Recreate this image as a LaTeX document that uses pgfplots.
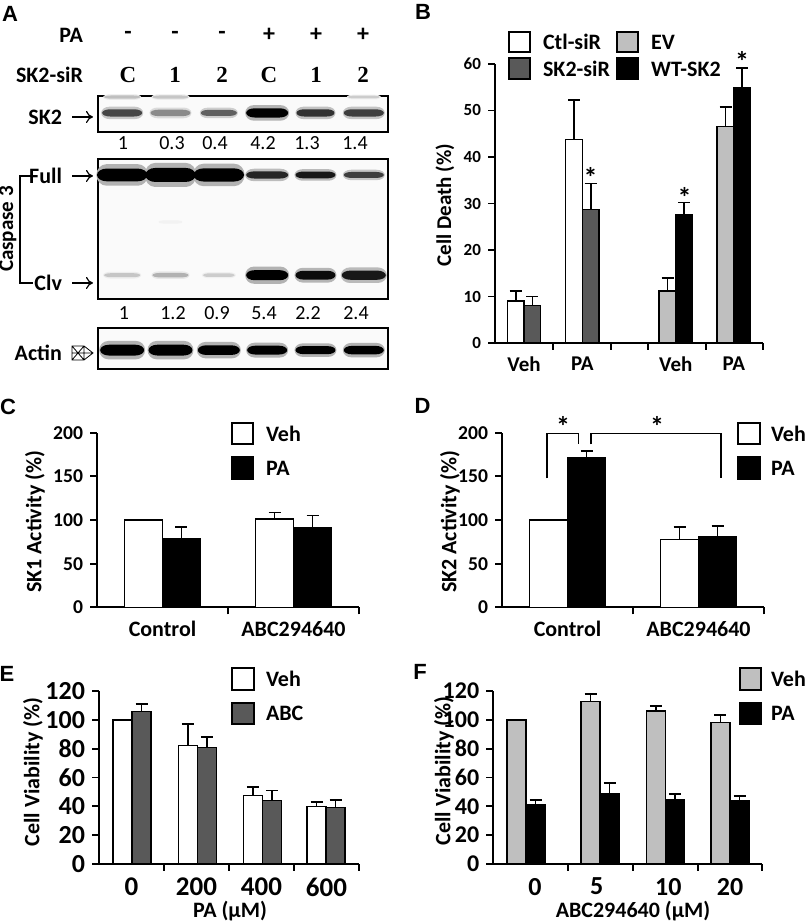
\documentclass[border=0pt]{standalone}
\usepackage{fontspec}
\setmainfont{Carlito}
\newfontfamily\lettfont{Liberation Sans}
\newfontfamily\timesfont{Liberation Serif}
\usepackage{pgfplots}
\pgfplotsset{compat=1.18}
\usepackage{pgfplotstable}
\usetikzlibrary{arrows.meta}

\definecolor{dgray}{gray}{0.35}
\definecolor{lgray}{gray}{0.75}
\newcommand\fs[1]{\fontsize{#1}{#1}\selectfont}

\newdimen\bandW
\newdimen\bandT
\newdimen\bandR
\newdimen\bandC
\pgfdeclareplotmark{band}{%
  \pgfmathsetlength\bandW{\bandwidth}%
  \bandT=\pgfplotmarksize
  \bandR=0.4\bandW
  \bandC=\bandW \advance\bandC by -\bandR
  \pgfpathrectangle{\pgfpoint{-\bandC}{-\bandT}}{\pgfpoint{2\bandC}{2\bandT}}%
  \pgfpathellipse{\pgfpoint{-\bandC}{0pt}}{\pgfpoint{\bandR}{0pt}}{\pgfpoint{0pt}{\bandT}}%
  \pgfpathellipse{\pgfpoint{\bandC}{0pt}}{\pgfpoint{\bandR}{0pt}}{\pgfpoint{0pt}{\bandT}}%
  \pgfusepathqfill}

\pgfplotsset{
  panel/.style={
    scale only axis, anchor=south west, clip=false,
    axis x line=bottom, axis y line=left,
    axis line style={-, line width=0.9pt},
    tick align=outside, major tick length=3.5pt, minor tick length=3.5pt,
    every major x tick/.append style={draw=none},
    every minor x tick/.append style={line width=0.9pt, black},
    ytick style={line width=0.9pt, black},
    /pgf/number format/assume math mode=true,
    ymin=0, xmin=0,
  },
  bars/.style={ybar, bar shift=0pt, draw=black, line width=0.7pt,
    error bars/y dir=plus, error bars/y explicit,
    error bars/error bar style={line width=0.8pt, black},
    error bars/error mark options={rotate=90, mark size=3pt, line width=0.8pt, black}},
  blot/.style={scale only axis, anchor=south west, width=145pt,
    xmin=0.5, xmax=6.5, ymin=0, ymax=1, xtick=\empty, ytick=\empty,
    axis line style={line width=0.8pt},
    axis background/.style={fill=black!2},
    point meta min=0, point meta max=1,
    colormap={blot}{color(0cm)=(white); color(1cm)=(black)}},
  band/.style={scatter, only marks, mark=band,
    scatter/use mapped color={draw=none, fill=mapped color},
    point meta=\thisrow{d},
    visualization depends on={\thisrow{t}\as\bandthick},
    visualization depends on={\thisrow{w}\as\bandwidth},
    scatter/@pre marker code/.append style={/tikz/mark size=\bandthick}},
  halo/.style={scatter, only marks, mark=band,
    scatter/use mapped color={draw=none, fill=mapped color},
    point meta=\thisrow{hd},
    visualization depends on={\thisrow{ht}\as\bandthick},
    visualization depends on={\thisrow{hw}\as\bandwidth},
    scatter/@pre marker code/.append style={/tikz/mark size=\bandthick}},
}

% blot bands: lane, y (relative), half width (pt), half thickness (pt), darkness; halo w, t, d
\pgfplotstableread{
lane y w t d hw ht hd
1 0.53 10 1.8 0.72 10.5 3.1 0.22
2 0.53 10 1.6 0.45 10.5 2.7 0.14
3 0.53 9 1.5 0.62 9.5 2.6 0.19
4 0.53 10.5 2.3 1.00 11 3.9 0.30
5 0.53 9.5 1.8 0.80 10 3.1 0.24
6 0.53 10 1.8 0.75 10.5 3.1 0.23
1 0.97 9 0.8 0.25 9.5 1.4 0.08
2 0.97 9 0.8 0.22 9.5 1.4 0.07
6 0.97 8 0.7 0.20 8.5 1.2 0.06
}\tabsk
\pgfplotstableread{
lane y w t d hw ht hd
1 0.886 12.6 3.2 1.00 12.9 5.4 0.30
2 0.886 12.6 3.5 1.00 12.9 6.0 0.30
3 0.886 12.6 3.3 1.00 12.9 5.6 0.30
4 0.886 10.5 1.8 0.85 11 3.1 0.26
5 0.886 10 1.7 0.90 10.5 2.9 0.27
6 0.886 10 1.5 0.75 10.5 2.6 0.23
1 0.17 9 1.0 0.22 9.5 1.7 0.07
2 0.17 9 1.1 0.30 9.5 1.9 0.09
3 0.17 8 0.9 0.20 8.5 1.5 0.06
4 0.17 10.5 2.5 1.00 11 4.3 0.30
5 0.17 10 2.2 0.95 10.5 3.7 0.29
6 0.17 11 2.3 0.90 11.5 3.9 0.27
2 0.55 6 0.8 0.05 6.5 1.4 0.02
}\tabcas
\pgfplotstableread{
lane y w t d hw ht hd
1 0.46 11 2.7 1.00 11.5 4.6 0.30
2 0.46 11 2.7 1.00 11.5 4.6 0.30
3 0.46 10.5 2.4 1.00 11 4.1 0.30
4 0.46 10 2.2 1.00 10.5 3.7 0.30
5 0.46 10 2.0 1.00 10.5 3.4 0.30
6 0.46 10 2.1 1.00 10.5 3.6 0.30
}\tabact

\begin{document}
\begin{tikzpicture}[x=0.5pt,y=0.5pt]
\path[use as bounding box] (0,0) rectangle (807,924);

%% ---------------- Panel A ----------------
\begin{axis}[blot, at={(49pt,396pt)}, height=18pt]
\addplot[halo] table[x=lane,y=y] \tabsk;
\addplot[band] table[x=lane,y=y] \tabsk;
\end{axis}
\begin{axis}[blot, at={(49pt,312.5pt)}, height=70pt]
\addplot[halo] table[x=lane,y=y] \tabcas;
\addplot[band] table[x=lane,y=y] \tabcas;
\end{axis}
\begin{axis}[blot, at={(49pt,277.5pt)}, height=20.5pt]
\addplot[halo] table[x=lane,y=y] \tabact;
\addplot[band] table[x=lane,y=y] \tabact;
\end{axis}

\node[font=\lettfont\bfseries\fs{11}] at (10,910) {A};
\node[font=\fs{11}\bfseries, anchor=east] at (90,889) {PA};
\foreach \x/\s in {128/-,175/-,222/-,269/+,316/+,363/+}
  \node[font=\fs{12}\bfseries] at (\x,889) {\s};
\node[font=\fs{11}\bfseries, anchor=east] at (90,849) {SK2-siR};
\foreach \x/\s in {128/C,175/1,222/2,269/C,316/1,363/2}
  \node[font=\timesfont\bfseries\fs{11.5}] at (\x,849) {\s};
\node[font=\fs{11}\bfseries, anchor=east] at (69,807) {SK2};
\draw[line width=0.6pt, -{To[length=3.5pt,width=6pt]}] (72,807) -- (93,807);
\foreach \x/\s in {123/1,172/0.3,215/0.4,263/4.2,307/1.3,355/1.4}
  \node[font=\fs{10}] at (\x,781) {\s};
\node[font=\fs{11}\bfseries, anchor=east] at (69,748) {Full};
\draw[line width=0.6pt, -{To[length=3.5pt,width=6pt]}] (72,748) -- (93,748);
\node[font=\fs{11}\bfseries, anchor=east] at (69,641) {Clv};
\draw[line width=0.6pt, -{To[length=3.5pt,width=6pt]}] (72,641) -- (93,641);
\draw[line width=0.6pt] (33,748) -- (20,748) -- (20,641) -- (33,641);
\node[font=\fs{10.5}\bfseries, rotate=90] at (8,695) {Caspase 3};
\foreach \x/\s in {124/1,173/1.2,217/0.9,264/5.4,308/2.2,356/2.4}
  \node[font=\fs{10}] at (\x,611) {\s};
\node[font=\fs{11}\bfseries, anchor=east] at (69,571) {Actin};
\draw[line width=0.4pt] (72,564) rectangle (84,578) (72,564) -- (84,578) (72,578) -- (84,564)
  (84,564) -- (93,571) -- (84,578) (72,571) -- (93,571);

%% ---------------- Panel B ----------------
\node[font=\lettfont\bfseries\fs{11}] at (423,912) {B};
\begin{axis}[panel, at={(247.5pt,290.5pt)}, width=134pt, height=139.5pt,
  xmax=268, ymax=60, ytick={0,10,...,60},
  xtick={29,87.3,180.8,238.8}, xticklabels={Veh,PA,Veh,PA},
  minor xtick={58.3,116,152.7,210.7,267.7},
  yticklabel style={font=\fs{8.5}\bfseries},
  xticklabel style={font=\fs{10.5}\bfseries}]
\addplot[bars, fill=white, bar width=16.7] coordinates {(20.7,9.0) +- (0,2.2) (79,43.8) +- (0,8.4)};
\addplot[bars, fill=dgray, bar width=16.7] coordinates {(37.3,8.1) +- (0,1.9) (95.7,28.7) +- (0,5.6)};
\addplot[bars, fill=lgray, bar width=16.7] coordinates {(172.5,11.2) +- (0,2.8) (230.5,46.5) +- (0,4.2)};
\addplot[bars, fill=black, bar width=16.7] coordinates {(189.2,27.5) +- (0,2.7) (247.2,55.0) +- (0,4.2)};
\node[font=\fs{14}\bfseries] at (axis cs:95.7,35.5) {*};
\node[font=\fs{14}\bfseries] at (axis cs:189.5,31.2) {*};
\node[font=\fs{14}\bfseries] at (axis cs:247.2,60.6) {*};
\end{axis}
\node[font=\fs{10.5}\bfseries, rotate=90] at (445,719) {Cell Death (\%)};
\draw[line width=0.6pt, fill=white] (509,892) rectangle (530,872);
\node[font=\fs{11}\bfseries, anchor=west] at (536,882) {Ctl-siR};
\draw[line width=0.6pt, fill=dgray] (509,866) rectangle (530,845);
\node[font=\fs{11}\bfseries, anchor=west] at (536,855) {SK2-siR};
\draw[line width=0.6pt, fill=lgray] (617,892) rectangle (638,872);
\node[font=\fs{11}\bfseries, anchor=west] at (644,882) {EV};
\draw[line width=0.6pt, fill=black] (617,866) rectangle (638,845);
\node[font=\fs{11}\bfseries, anchor=west] at (644,855) {WT-SK2};

%% ---------------- Panel C ----------------
\node[font=\lettfont\bfseries\fs{11}] at (8,517) {C};
\begin{axis}[panel, at={(48.5pt,158.35pt)}, width=131pt, height=87.3pt,
  xmax=2, ymax=200, ytick={0,50,...,200},
  xtick={0.5,1.5}, xticklabels={Control,ABC294640}, minor xtick={1,2},
  yticklabel style={font=\fs{9.8}\bfseries},
  xticklabel style={font=\fs{11}\bfseries}]
\addplot[bars, fill=white, bar width=0.29] coordinates {(0.355,100) +- (0,0) (1.355,101.1) +- (0,7.3)};
\addplot[bars, fill=black, bar width=0.29] coordinates {(0.645,78.2) +- (0,13.8) (1.645,91.2) +- (0,14.1)};
\end{axis}
\node[font=\fs{11}\bfseries, rotate=90] at (35,402.3) {SK1 Activity (\%)};
\draw[line width=0.6pt, fill=white] (232,501) rectangle (253,480);
\node[font=\fs{11}\bfseries, anchor=west] at (259,490.5) {Veh};
\draw[line width=0.6pt, fill=black] (232,467) rectangle (253,445);
\node[font=\fs{11}\bfseries, anchor=west] at (259,456) {PA};

%% ---------------- Panel D ----------------
\node[font=\lettfont\bfseries\fs{11}] at (422.5,518) {D};
\begin{axis}[panel, at={(251pt,158.35pt)}, width=131pt, height=87.3pt,
  xmax=2, ymax=200, ytick={0,50,...,200},
  xtick={0.5,1.5}, xticklabels={Control,ABC294640}, minor xtick={1,2},
  yticklabel style={font=\fs{9.8}\bfseries},
  xticklabel style={font=\fs{11}\bfseries}]
\addplot[bars, fill=white, bar width=0.29] coordinates {(0.355,100) +- (0,0) (1.355,77.9) +- (0,14.1)};
\addplot[bars, fill=black, bar width=0.29] coordinates {(0.645,171.8) +- (0,7.2) (1.645,80.9) +- (0,12.2)};
\draw[line width=0.6pt] (axis cs:0.343,147.7) |- (axis cs:0.583,199) -- (axis cs:0.583,186.6);
\draw[line width=0.6pt] (axis cs:0.679,186.6) |- (axis cs:1.672,199) -- (axis cs:1.672,147.7);
\node[font=\fs{14}\bfseries] at (axis cs:0.466,207.5) {*};
\node[font=\fs{14}\bfseries] at (axis cs:1.183,207.5) {*};
\end{axis}
\node[font=\fs{11}\bfseries, rotate=90] at (450,402.3) {SK2 Activity (\%)};
\draw[line width=0.6pt, fill=white] (738,501) rectangle (760,480);
\node[font=\fs{11}\bfseries, anchor=west] at (764,490.5) {Veh};
\draw[line width=0.6pt, fill=black] (738,467) rectangle (760,445);
\node[font=\fs{11}\bfseries, anchor=west] at (764,456) {PA};

%% ---------------- Panel E ----------------
\node[font=\lettfont\bfseries\fs{11}] at (7,250) {E};
\begin{axis}[panel, at={(49.5pt,30pt)}, width=130pt, height=86.5pt,
  xmax=260, ymax=120, ytick={0,20,...,120},
  xtick={32.5,97.5,162.5,227.5}, xticklabels={0,200,400,600},
  minor xtick={65,130,195,260},
  yticklabel style={font=\fs{13}\bfseries},
  xticklabel style={font=\fs{13.5}\bfseries}]
\addplot[bars, fill=white, bar width=19] coordinates {(23.5,100) +- (0,0) (88.8,82.1) +- (0,14.8) (153.8,47.4) +- (0,6.2) (217.5,39.8) +- (0,3.0)};
\addplot[bars, fill=dgray, bar width=19] coordinates {(42.5,105.7) +- (0,5.1) (107.8,80.9) +- (0,7.0) (172.8,43.9) +- (0,7.2) (236.5,39.1) +- (0,5.3)};
\end{axis}
\node[font=\fs{11}\bfseries, rotate=90] at (33,152) {Cell Viability (\%)};
\node[font=\fs{11}\bfseries] at (230,13.3) {PA (μM)};
\draw[line width=0.6pt, fill=white] (232,256) rectangle (254,234);
\node[font=\fs{11}\bfseries, anchor=west] at (259,245) {Veh};
\draw[line width=0.6pt, fill=dgray] (232,221) rectangle (254,200);
\node[font=\fs{11}\bfseries, anchor=west] at (259,210.5) {ABC};

%% ---------------- Panel F ----------------
\node[font=\lettfont\bfseries\fs{11}] at (420,252) {F};
\begin{axis}[panel, at={(246.65pt,30pt)}, width=134.2pt, height=86.5pt,
  xmax=268.3, ymax=120, ytick={0,20,...,120},
  xtick={41.7,103.3,175,236.7}, xticklabels={0,5,10,20},
  minor xtick={74.3,139.3,204.3,268.3},
  yticklabel style={font=\fs{12}\bfseries},
  xticklabel style={font=\fs{13}\bfseries}]
\addplot[bars, fill=lgray, bar width=19] coordinates {(23.3,100) +- (0,0) (97.2,112.6) +- (0,5.3) (162.5,106.1) +- (0,3.7) (227,98) +- (0,5.4)};
\addplot[bars, fill=black, bar width=19] coordinates {(42.2,40.9) +- (0,3.5) (116.2,49) +- (0,7) (181.5,44.9) +- (0,3.7) (246.2,43.9) +- (0,3.3)};
\end{axis}
\node[font=\fs{11}\bfseries, rotate=90] at (444,153) {Cell Viability (\%)};
\node[font=\fs{11}\bfseries] at (633,13.3) {ABC294640 (μM)};
\draw[line width=0.6pt, fill=lgray] (740,256) rectangle (761,234);
\node[font=\fs{11}\bfseries, anchor=west] at (764,245) {Veh};
\draw[line width=0.6pt, fill=black] (740,221) rectangle (761,200);
\node[font=\fs{11}\bfseries, anchor=west] at (764,210.5) {PA};
\end{tikzpicture}
\end{document}
